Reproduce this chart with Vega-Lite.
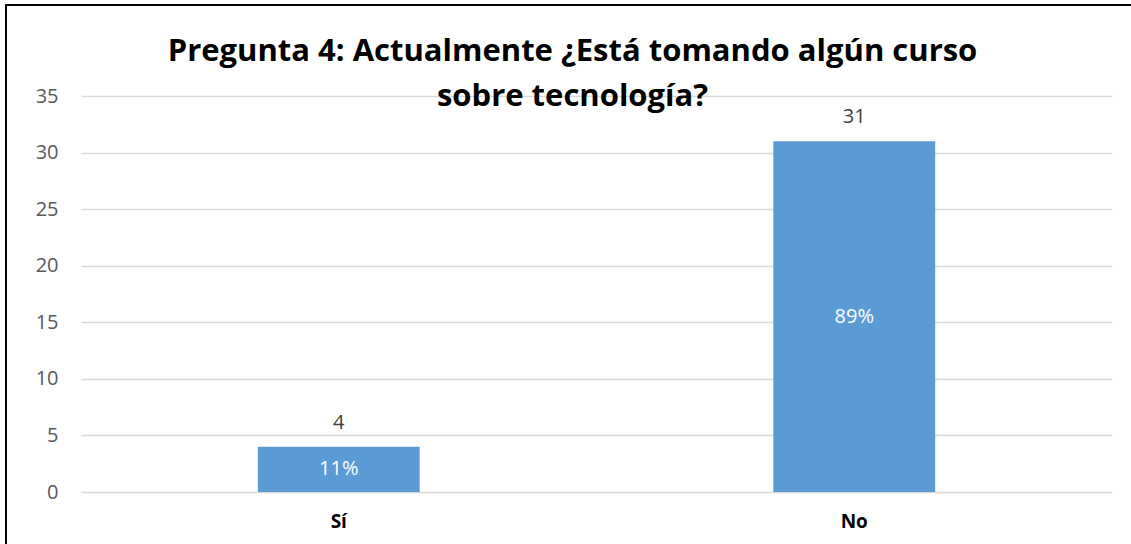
{
  "$schema": "https://vega.github.io/schema/vega-lite/v6.json",
  "autosize": {"type": "none"},
  "padding": {"left": 6, "top": 5, "right": 0, "bottom": 0},
  "width": 1127,
  "height": 541,
  "background": "white",
  "title": {
    "text": ["Pregunta 4: Actualmente ¿Está tomando algún curso", "sobre tecnología?"],
    "font": "Open Sans",
    "fontSize": 31,
    "fontWeight": "bold",
    "color": "#000000",
    "anchor": "middle",
    "frame": "group",
    "offset": -108,
    "dx": 3,
    "lineHeight": 45
  },
  "data": {
    "values": [
      {"respuesta": "Sí", "valor": 4, "porcentaje": "11%"},
      {"respuesta": "No", "valor": 31, "porcentaje": "89%"}
    ]
  },
  "encoding": {
    "x": {
      "field": "respuesta",
      "type": "nominal",
      "sort": null,
      "scale": {"range": [75, 1106], "paddingInner": 0.686, "paddingOuter": 0.343},
      "axis": {
        "title": null,
        "domain": false,
        "ticks": false,
        "tickSize": 0,
        "grid": false,
        "labelAngle": 0,
        "labelFont": "Open Sans",
        "labelFontSize": 19,
        "labelFontWeight": "bold",
        "labelColor": "#000000",
        "labelPadding": 20,
        "offset": -54
      }
    }
  },
  "layer": [
    {
      "mark": {"type": "bar", "color": "#5B9BD5"},
      "encoding": {
        "y": {
          "field": "valor",
          "type": "quantitative",
          "scale": {"domain": [0, 35], "nice": false, "range": [487, 91]},
          "axis": {
            "title": null,
            "values": [0, 5, 10, 15, 20, 25, 30, 35],
            "domain": false,
            "ticks": false,
            "tickSize": 0,
            "grid": true,
            "gridColor": "#D9D9D9",
            "gridWidth": 1.3,
            "labelFont": "Open Sans",
            "labelFontSize": 20,
            "labelColor": "#595959",
            "labelPadding": 23,
            "offset": -75
          }
        }
      }
    },
    {
      "mark": {"type": "text", "font": "Open Sans", "fontSize": 20, "color": "#404040", "baseline": "middle", "dy": -24},
      "encoding": {
        "y": {"field": "valor", "type": "quantitative"},
        "text": {"field": "valor", "type": "quantitative"}
      }
    },
    {
      "mark": {"type": "text", "font": "Open Sans", "fontSize": 20, "color": "#FFFFFF", "baseline": "middle"},
      "encoding": {
        "y": {"field": "valor", "type": "quantitative", "stack": "zero", "bandPosition": 0.5},
        "text": {"field": "porcentaje", "type": "nominal"}
      }
    }
  ],
  "config": {
    "view": {"stroke": "#000000", "strokeWidth": 2}
  }
}
